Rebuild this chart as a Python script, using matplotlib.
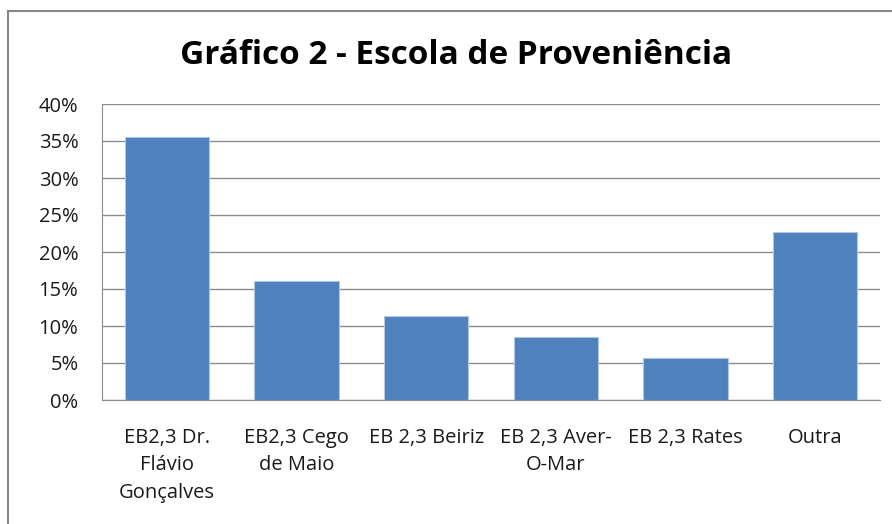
import matplotlib
matplotlib.use("Agg")
import matplotlib.pyplot as plt
from matplotlib.ticker import FuncFormatter, MultipleLocator
from matplotlib.lines import Line2D

categories = ["EB2,3 Dr.\nFlávio\nGonçalves", "EB2,3 Cego\nde Maio", "EB 2,3 Beiriz",
              "EB 2,3 Aver-\nO-Mar", "EB 2,3 Rates", "Outra"]
values = [35.5, 16.1, 11.4, 8.5, 5.7, 22.7]
title = "Gráfico 2 - Escola de Proveniência"

plt.rcParams['font.family'] = ['Open Sans', 'DejaVu Sans']

fig = plt.figure(figsize=(8.92, 5.24), dpi=100)
ax = fig.add_axes([102/892, 1-400/524, (880-102)/892, (400-104)/524])

x = range(len(categories))
ax.bar(x, values, width=0.65, color="#4F81BD", edgecolor="#B0C6E2", linewidth=0.8, zorder=3)

ax.set_ylim(0, 40)
ax.set_xlim(-0.5, len(categories)-0.5)
ax.yaxis.set_major_locator(MultipleLocator(5))
ax.yaxis.set_major_formatter(FuncFormatter(lambda v, p: f"{int(v)}%"))
ax.grid(axis='y', color="#8c8c8c", linewidth=1.0, zorder=0)
ax.set_xticks(list(x))
ax.set_xticklabels(categories, fontsize=14.5, linespacing=1.5, color="#1a1a1a")
ax.tick_params(axis='x', length=0, pad=20)
ax.tick_params(axis='y', length=0, pad=17, labelsize=14.5, labelcolor="#1a1a1a")

for s in ['top', 'right']:
    ax.spines[s].set_visible(False)
ax.spines['left'].set_color("#8c8c8c")
ax.spines['bottom'].set_color("#8c8c8c")

fig.text(456/892, 1-55/524, title, ha='center', va='center', fontsize=24, fontweight='bold')

# outer chart border (left and top visible)
fig.add_artist(Line2D([8/892, 8/892], [0, 1-11/524], transform=fig.transFigure, color="#888888", linewidth=1.5))
fig.add_artist(Line2D([8/892, 1], [1-11/524, 1-11/524], transform=fig.transFigure, color="#888888", linewidth=1.5))

fig.savefig("out.png", dpi=100)
